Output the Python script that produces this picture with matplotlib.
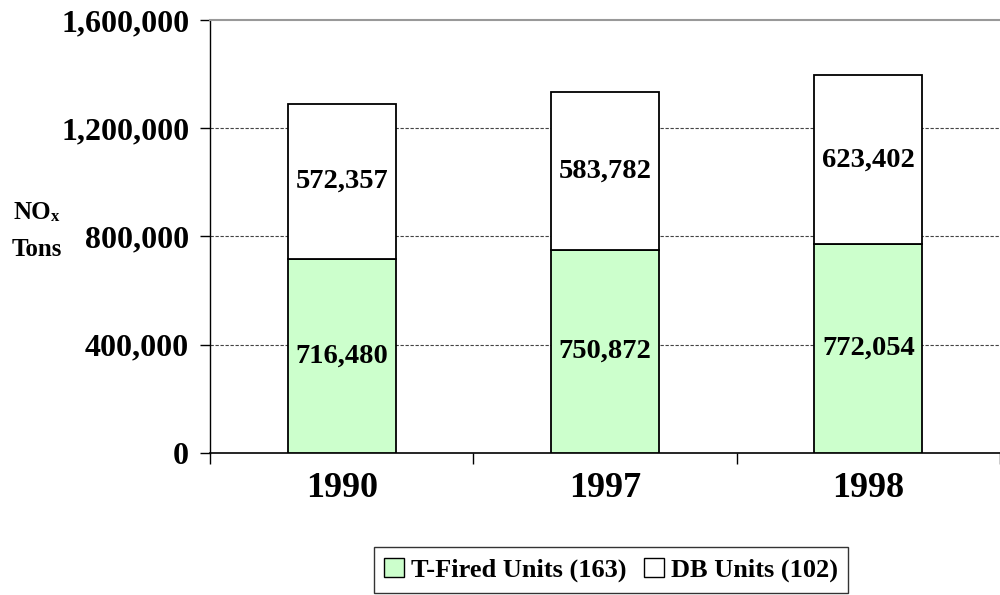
import matplotlib
matplotlib.use("Agg")
import matplotlib.pyplot as plt
from matplotlib.patches import Patch

years = ["1990", "1997", "1998"]
tfired = [716480, 750872, 772054]
db = [572357, 583782, 623402]
yticks = [0, 400000, 800000, 1200000, 1600000]
legend_labels = ["T-Fired Units (163)", "DB Units (102)"]

plt.rcParams['font.family'] = ['Liberation Serif', 'DejaVu Serif']
plt.rcParams['font.weight'] = 'bold'

fig = plt.figure(figsize=(10, 5.95), dpi=100)
ax = fig.add_axes([0.21, 1 - 453/595, 0.79, (453 - 20)/595])

green = '#CCFFCC'
x = list(range(len(years)))
w = 0.41
ax.bar(x, tfired, width=w, color=green, edgecolor='black', linewidth=1.3, zorder=3)
ax.bar(x, db, bottom=tfired, width=w, color='white', edgecolor='black', linewidth=1.3, zorder=3)

for i in x:
    ax.text(i, tfired[i] / 2, f"{tfired[i]:,}", ha='center', va='center',
            fontsize=20.5, fontweight='bold', zorder=4)
    ax.text(i, tfired[i] + db[i] / 2, f"{db[i]:,}", ha='center', va='center',
            fontsize=20.5, fontweight='bold', zorder=4)

ax.set_xlim(-0.5, 2.5)
ax.set_ylim(0, 1600000)
ax.set_yticks(yticks)
ax.set_yticklabels([f"{v:,}" for v in yticks], fontsize=23, fontweight='bold')
ax.set_xticks(x)
ax.set_xticklabels(years, fontsize=26, fontweight='bold')
ax.tick_params(axis='x', length=0, pad=14)
ax.set_xticks([-0.5, 0.5, 1.5, 2.5], minor=True)
ax.tick_params(axis='x', which='minor', length=8, width=1, direction='out')
ax.tick_params(axis='y', length=7, width=1, direction='out', pad=8)

for v in yticks[1:-1]:
    ax.axhline(v, color='#444444', linestyle=(0, (3, 1.5)), linewidth=0.8, zorder=1)

ax.spines['right'].set_visible(False)
ax.spines['top'].set_color('#999999')
ax.spines['top'].set_linewidth(1.5)
ax.spines['left'].set_linewidth(1)
ax.spines['bottom'].set_linewidth(1.2)

fig.text(13/1000, 1 - 212/595, "NO", ha='left', va='center', fontsize=18, fontweight='bold')
fig.text(51/1000, 1 - 217/595, "x", ha='left', va='center', fontsize=12, fontweight='bold')
fig.text(37/1000, 1 - 249/595, "Tons", ha='center', va='center', fontsize=18, fontweight='bold')

handles = [Patch(facecolor=green, edgecolor='black', linewidth=1),
           Patch(facecolor='white', edgecolor='black', linewidth=1)]
leg = fig.legend(handles, legend_labels, loc='center', bbox_to_anchor=(0.611, 1 - 570/595),
                 ncol=2, frameon=True, fancybox=False, prop={'size': 19, 'weight': 'bold'},
                 handlelength=0.75, handleheight=0.75, handletextpad=0.25, columnspacing=0.7,
                 borderpad=0.4, edgecolor='black')
leg.get_frame().set_linewidth(1)

fig.savefig("out.png", dpi=100)
